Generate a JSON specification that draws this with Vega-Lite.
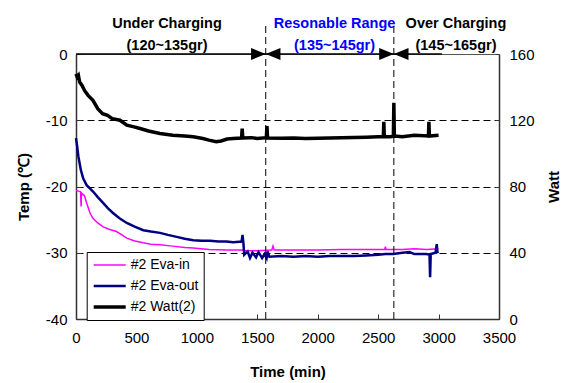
{
  "$schema": "https://vega.github.io/schema/vega-lite/v6.json",
  "width": 423,
  "height": 265,
  "autosize": {"type": "none"},
  "padding": {"left": 76, "top": 54, "right": 68, "bottom": 64},
  "background": "white",
  "config": {
    "font": "Liberation Sans",
    "view": {"stroke": "#555555", "strokeWidth": 1},
    "axis": {
      "labelFont": "Liberation Sans", "labelFontSize": 15, "labelColor": "black",
      "titleFont": "Liberation Sans", "titleFontSize": 15, "titleFontWeight": "bold", "titleColor": "black",
      "domainColor": "#333333", "domainWidth": 1.5, "tickColor": "#333333", "tickWidth": 1,
      "labelFlush": false, "labelOverlap": false, "labelBound": false,
      "labelExpr": "'' + datum.value"
    }
  },
  "datasets": {
    "series": [
      {"t": 0, "s": "#2 Eva-in", "v": -20.6}, {"t": 20, "s": "#2 Eva-in", "v": -20.7}, {"t": 38, "s": "#2 Eva-in", "v": -20.8},
      {"t": 42, "s": "#2 Eva-in", "v": -23.0}, {"t": 46, "s": "#2 Eva-in", "v": -21.0}, {"t": 70, "s": "#2 Eva-in", "v": -21.4},
      {"t": 90, "s": "#2 Eva-in", "v": -22.6}, {"t": 116, "s": "#2 Eva-in", "v": -24.0}, {"t": 140, "s": "#2 Eva-in", "v": -24.8},
      {"t": 180, "s": "#2 Eva-in", "v": -25.5}, {"t": 225, "s": "#2 Eva-in", "v": -26.1}, {"t": 280, "s": "#2 Eva-in", "v": -26.5},
      {"t": 335, "s": "#2 Eva-in", "v": -26.8}, {"t": 380, "s": "#2 Eva-in", "v": -27.3}, {"t": 420, "s": "#2 Eva-in", "v": -27.8},
      {"t": 480, "s": "#2 Eva-in", "v": -28.2}, {"t": 555, "s": "#2 Eva-in", "v": -28.5}, {"t": 620, "s": "#2 Eva-in", "v": -28.7},
      {"t": 695, "s": "#2 Eva-in", "v": -28.8}, {"t": 800, "s": "#2 Eva-in", "v": -29.0}, {"t": 900, "s": "#2 Eva-in", "v": -29.2},
      {"t": 970, "s": "#2 Eva-in", "v": -29.3}, {"t": 1100, "s": "#2 Eva-in", "v": -29.5}, {"t": 1250, "s": "#2 Eva-in", "v": -29.6},
      {"t": 1370, "s": "#2 Eva-in", "v": -29.6}, {"t": 1400, "s": "#2 Eva-in", "v": -29.7}, {"t": 1500, "s": "#2 Eva-in", "v": -29.7},
      {"t": 1620, "s": "#2 Eva-in", "v": -29.6}, {"t": 1630, "s": "#2 Eva-in", "v": -29.0}, {"t": 1640, "s": "#2 Eva-in", "v": -29.6},
      {"t": 1800, "s": "#2 Eva-in", "v": -29.6}, {"t": 2000, "s": "#2 Eva-in", "v": -29.6}, {"t": 2200, "s": "#2 Eva-in", "v": -29.5},
      {"t": 2400, "s": "#2 Eva-in", "v": -29.5}, {"t": 2555, "s": "#2 Eva-in", "v": -29.5}, {"t": 2560, "s": "#2 Eva-in", "v": -29.1},
      {"t": 2565, "s": "#2 Eva-in", "v": -29.5}, {"t": 2700, "s": "#2 Eva-in", "v": -29.5}, {"t": 2800, "s": "#2 Eva-in", "v": -29.4},
      {"t": 2900, "s": "#2 Eva-in", "v": -29.5}, {"t": 3000, "s": "#2 Eva-in", "v": -29.4},

      {"t": 0, "s": "#2 Eva-out", "v": -12.7}, {"t": 10, "s": "#2 Eva-out", "v": -14.0}, {"t": 20, "s": "#2 Eva-out", "v": -15.5},
      {"t": 40, "s": "#2 Eva-out", "v": -17.5}, {"t": 60, "s": "#2 Eva-out", "v": -18.8}, {"t": 88, "s": "#2 Eva-out", "v": -19.8},
      {"t": 115, "s": "#2 Eva-out", "v": -20.3}, {"t": 143, "s": "#2 Eva-out", "v": -20.8}, {"t": 180, "s": "#2 Eva-out", "v": -21.6},
      {"t": 226, "s": "#2 Eva-out", "v": -22.5}, {"t": 265, "s": "#2 Eva-out", "v": -23.3}, {"t": 306, "s": "#2 Eva-out", "v": -24.0},
      {"t": 360, "s": "#2 Eva-out", "v": -24.8}, {"t": 420, "s": "#2 Eva-out", "v": -25.5}, {"t": 490, "s": "#2 Eva-out", "v": -26.1},
      {"t": 557, "s": "#2 Eva-out", "v": -26.6}, {"t": 620, "s": "#2 Eva-out", "v": -26.8}, {"t": 695, "s": "#2 Eva-out", "v": -27.0},
      {"t": 760, "s": "#2 Eva-out", "v": -27.3}, {"t": 833, "s": "#2 Eva-out", "v": -27.6}, {"t": 900, "s": "#2 Eva-out", "v": -27.9},
      {"t": 970, "s": "#2 Eva-out", "v": -28.1}, {"t": 1040, "s": "#2 Eva-out", "v": -28.2}, {"t": 1108, "s": "#2 Eva-out", "v": -28.2},
      {"t": 1180, "s": "#2 Eva-out", "v": -28.3}, {"t": 1246, "s": "#2 Eva-out", "v": -28.3}, {"t": 1300, "s": "#2 Eva-out", "v": -28.4},
      {"t": 1370, "s": "#2 Eva-out", "v": -28.3}, {"t": 1378, "s": "#2 Eva-out", "v": -27.3}, {"t": 1385, "s": "#2 Eva-out", "v": -28.5},
      {"t": 1392, "s": "#2 Eva-out", "v": -30.3}, {"t": 1420, "s": "#2 Eva-out", "v": -29.8}, {"t": 1440, "s": "#2 Eva-out", "v": -30.8},
      {"t": 1460, "s": "#2 Eva-out", "v": -30.0}, {"t": 1490, "s": "#2 Eva-out", "v": -30.7}, {"t": 1510, "s": "#2 Eva-out", "v": -29.9},
      {"t": 1540, "s": "#2 Eva-out", "v": -30.8}, {"t": 1560, "s": "#2 Eva-out", "v": -30.2}, {"t": 1577, "s": "#2 Eva-out", "v": -30.8},
      {"t": 1585, "s": "#2 Eva-out", "v": -29.8}, {"t": 1600, "s": "#2 Eva-out", "v": -30.6}, {"t": 1700, "s": "#2 Eva-out", "v": -30.5},
      {"t": 1800, "s": "#2 Eva-out", "v": -30.6}, {"t": 1900, "s": "#2 Eva-out", "v": -30.5}, {"t": 2000, "s": "#2 Eva-out", "v": -30.6},
      {"t": 2100, "s": "#2 Eva-out", "v": -30.5}, {"t": 2200, "s": "#2 Eva-out", "v": -30.5}, {"t": 2300, "s": "#2 Eva-out", "v": -30.5},
      {"t": 2400, "s": "#2 Eva-out", "v": -30.4}, {"t": 2500, "s": "#2 Eva-out", "v": -30.3}, {"t": 2560, "s": "#2 Eva-out", "v": -30.2},
      {"t": 2625, "s": "#2 Eva-out", "v": -30.2}, {"t": 2700, "s": "#2 Eva-out", "v": -30.0}, {"t": 2760, "s": "#2 Eva-out", "v": -29.9},
      {"t": 2800, "s": "#2 Eva-out", "v": -30.2}, {"t": 2900, "s": "#2 Eva-out", "v": -30.2}, {"t": 2925, "s": "#2 Eva-out", "v": -30.3},
      {"t": 2930, "s": "#2 Eva-out", "v": -33.7}, {"t": 2935, "s": "#2 Eva-out", "v": -30.2}, {"t": 2975, "s": "#2 Eva-out", "v": -30.0},
      {"t": 2985, "s": "#2 Eva-out", "v": -28.7}, {"t": 2990, "s": "#2 Eva-out", "v": -29.9}, {"t": 3000, "s": "#2 Eva-out", "v": -29.8},

      {"t": 0, "s": "#2 Watt(2)", "v": 148}, {"t": 10, "s": "#2 Watt(2)", "v": 146}, {"t": 20, "s": "#2 Watt(2)", "v": 147},
      {"t": 30, "s": "#2 Watt(2)", "v": 143}, {"t": 50, "s": "#2 Watt(2)", "v": 141}, {"t": 70, "s": "#2 Watt(2)", "v": 138},
      {"t": 100, "s": "#2 Watt(2)", "v": 135}, {"t": 140, "s": "#2 Watt(2)", "v": 132}, {"t": 180, "s": "#2 Watt(2)", "v": 127},
      {"t": 220, "s": "#2 Watt(2)", "v": 124}, {"t": 260, "s": "#2 Watt(2)", "v": 123}, {"t": 300, "s": "#2 Watt(2)", "v": 121},
      {"t": 364, "s": "#2 Watt(2)", "v": 120}, {"t": 420, "s": "#2 Watt(2)", "v": 117}, {"t": 480, "s": "#2 Watt(2)", "v": 116},
      {"t": 530, "s": "#2 Watt(2)", "v": 115}, {"t": 600, "s": "#2 Watt(2)", "v": 113.5}, {"t": 695, "s": "#2 Watt(2)", "v": 112},
      {"t": 800, "s": "#2 Watt(2)", "v": 111}, {"t": 900, "s": "#2 Watt(2)", "v": 110.5}, {"t": 970, "s": "#2 Watt(2)", "v": 110},
      {"t": 1050, "s": "#2 Watt(2)", "v": 109}, {"t": 1100, "s": "#2 Watt(2)", "v": 108}, {"t": 1160, "s": "#2 Watt(2)", "v": 107},
      {"t": 1200, "s": "#2 Watt(2)", "v": 107.5}, {"t": 1250, "s": "#2 Watt(2)", "v": 108.7}, {"t": 1300, "s": "#2 Watt(2)", "v": 109},
      {"t": 1370, "s": "#2 Watt(2)", "v": 109.3}, {"t": 1375, "s": "#2 Watt(2)", "v": 115}, {"t": 1380, "s": "#2 Watt(2)", "v": 109.3},
      {"t": 1450, "s": "#2 Watt(2)", "v": 109.5}, {"t": 1500, "s": "#2 Watt(2)", "v": 109}, {"t": 1575, "s": "#2 Watt(2)", "v": 109.5},
      {"t": 1580, "s": "#2 Watt(2)", "v": 116.5}, {"t": 1585, "s": "#2 Watt(2)", "v": 109.3}, {"t": 1700, "s": "#2 Watt(2)", "v": 109.2},
      {"t": 1800, "s": "#2 Watt(2)", "v": 109.3}, {"t": 1900, "s": "#2 Watt(2)", "v": 109}, {"t": 2000, "s": "#2 Watt(2)", "v": 109.2},
      {"t": 2100, "s": "#2 Watt(2)", "v": 109.3}, {"t": 2200, "s": "#2 Watt(2)", "v": 109.5}, {"t": 2300, "s": "#2 Watt(2)", "v": 109.6},
      {"t": 2400, "s": "#2 Watt(2)", "v": 109.8}, {"t": 2500, "s": "#2 Watt(2)", "v": 110}, {"t": 2543, "s": "#2 Watt(2)", "v": 110},
      {"t": 2547, "s": "#2 Watt(2)", "v": 119}, {"t": 2551, "s": "#2 Watt(2)", "v": 110}, {"t": 2600, "s": "#2 Watt(2)", "v": 110},
      {"t": 2626, "s": "#2 Watt(2)", "v": 110.3}, {"t": 2630, "s": "#2 Watt(2)", "v": 130.6}, {"t": 2634, "s": "#2 Watt(2)", "v": 110.5},
      {"t": 2700, "s": "#2 Watt(2)", "v": 110}, {"t": 2800, "s": "#2 Watt(2)", "v": 111}, {"t": 2916, "s": "#2 Watt(2)", "v": 110.5},
      {"t": 2920, "s": "#2 Watt(2)", "v": 119}, {"t": 2924, "s": "#2 Watt(2)", "v": 110.5}, {"t": 3000, "s": "#2 Watt(2)", "v": 111}
    ],
    "boundaries": [{"t": 1570}, {"t": 2630}],
    "labels": [
      {"t": 753, "lines": ["Under Charging", "(120~135gr)"]},
      {"t": 2139, "lines": ["Resonable Range", "(135~145gr)"]},
      {"t": 3144, "lines": ["Over Charging", "(145~165gr)"]}
    ]
  },
  "layer": [
    {
      "layer": [
        {
          "data": {"name": "series"},
          "transform": [{"filter": "datum.s !== '#2 Watt(2)'"}],
          "mark": {"type": "line", "interpolate": "linear"},
          "encoding": {
            "x": {"field": "t", "type": "quantitative", "title": "Time (min)",
              "scale": {"domain": [0, 3500], "nice": false, "zero": false},
              "axis": {"values": [0, 500, 1000, 1500, 2000, 2500, 3000, 3500], "grid": false, "tickSize": -5, "labelPadding": 16,
                "titleX": 211.5, "titleY": 52, "titleBaseline": "middle", "titleAlign": "center"}},
            "y": {"field": "v", "type": "quantitative", "title": "Temp (℃)",
              "scale": {"domain": [-40, 0], "nice": false, "zero": false},
              "axis": {"values": [-40, -30, -20, -10, 0], "grid": true, "gridDash": [7, 4], "gridColor": "black", "gridWidth": 1,
                "gridOpacity": {"condition": {"test": "datum.value === 0 || datum.value === -40", "value": 0}, "value": 1},
                "tickSize": -5, "labelPadding": 14, "titleX": -53, "titleY": 132.5, "titleAngle": -90, "titleBaseline": "middle", "titleAlign": "center"}},
            "color": {"field": "s", "type": "nominal",
              "scale": {"domain": ["#2 Eva-in", "#2 Eva-out", "#2 Watt(2)"], "range": ["#ff00ff", "#000080", "#000000"]},
              "legend": {"orient": "none", "legendX": 10.7, "legendY": 198, "title": null, "direction": "vertical",
                "strokeColor": "black", "fillColor": "white", "padding": 5, "symbolType": "stroke", "symbolSize": 1024,
                "labelFontSize": 14, "labelFont": "Liberation Sans", "labelColor": "black", "clipHeight": 16, "rowPadding": 5, "labelOffset": 3}},
            "strokeWidth": {"field": "s", "type": "nominal",
              "scale": {"domain": ["#2 Eva-in", "#2 Eva-out", "#2 Watt(2)"], "range": [1.5, 3.5, 4]},
              "legend": {"orient": "none", "legendX": 10.7, "legendY": 198, "title": null, "direction": "vertical",
                "strokeColor": "black", "fillColor": "white", "padding": 5, "symbolType": "stroke", "symbolSize": 1024,
                "labelFontSize": 14, "labelFont": "Liberation Sans", "labelColor": "black", "clipHeight": 16, "rowPadding": 5, "labelOffset": 3}}
          }
        },
        {
          "data": {"name": "boundaries"},
          "mark": {"type": "rule", "color": "black", "strokeWidth": 1, "strokeDash": [7, 4]},
          "encoding": {
            "x": {"field": "t", "type": "quantitative", "title": "Time (min)", "scale": {"domain": [0, 3500], "nice": false, "zero": false}},
            "y": {"datum": -40, "type": "quantitative", "title": "Temp (℃)", "scale": {"domain": [-40, 0], "nice": false, "zero": false}},
            "y2": {"datum": 4.8}
          }
        },
        {
          "data": {"values": [{}]},
          "mark": {"type": "rule", "color": "black", "strokeWidth": 1.5},
          "encoding": {
            "x": {"datum": 0, "type": "quantitative", "title": "Time (min)", "scale": {"domain": [0, 3500], "nice": false, "zero": false}},
            "x2": {"datum": 3027},
            "y": {"datum": 0, "type": "quantitative", "title": "Temp (℃)", "scale": {"domain": [-40, 0], "nice": false, "zero": false}}
          }
        },
        {
          "data": {"name": "boundaries"},
          "mark": {"type": "point", "shape": "M-2,-0.82L0,0L-2,0.82Z", "size": 215, "filled": true, "color": "black", "opacity": 1, "strokeWidth": 0},
          "encoding": {
            "x": {"field": "t", "type": "quantitative", "title": "Time (min)", "scale": {"domain": [0, 3500], "nice": false, "zero": false}},
            "y": {"datum": 0, "type": "quantitative", "title": "Temp (℃)", "scale": {"domain": [-40, 0], "nice": false, "zero": false}}
          }
        },
        {
          "data": {"name": "boundaries"},
          "mark": {"type": "point", "shape": "M2,-0.82L0,0L2,0.82Z", "size": 215, "filled": true, "color": "black", "opacity": 1, "strokeWidth": 0},
          "encoding": {
            "x": {"field": "t", "type": "quantitative", "title": "Time (min)", "scale": {"domain": [0, 3500], "nice": false, "zero": false}},
            "y": {"datum": 0, "type": "quantitative", "title": "Temp (℃)", "scale": {"domain": [-40, 0], "nice": false, "zero": false}}
          }
        },
        {
          "data": {"name": "labels"},
          "mark": {"type": "text", "font": "Liberation Sans", "fontSize": 14.5, "fontWeight": "bold", "align": "center", "baseline": "middle", "lineHeight": 22},
          "encoding": {
            "x": {"field": "t", "type": "quantitative", "title": "Time (min)", "scale": {"domain": [0, 3500], "nice": false, "zero": false}},
            "y": {"datum": 4.53, "type": "quantitative", "title": "Temp (℃)", "scale": {"domain": [-40, 0], "nice": false, "zero": false}},
            "text": {"field": "lines"},
            "color": {"condition": {"test": "datum.t > 2000 && datum.t < 2500", "value": "#0000ff"}, "value": "black"}
          }
        }
      ]
    },
    {
      "data": {"name": "series"},
      "transform": [{"filter": "datum.s === '#2 Watt(2)'"}],
      "mark": {"type": "line", "interpolate": "linear"},
      "encoding": {
        "x": {"field": "t", "type": "quantitative", "title": "Time (min)", "scale": {"domain": [0, 3500], "nice": false, "zero": false}},
        "y": {"field": "v", "type": "quantitative", "title": "Watt",
          "scale": {"domain": [0, 160], "nice": false, "zero": false},
          "axis": {"orient": "right", "values": [0, 40, 80, 120, 160], "grid": false, "tickSize": -4, "labelPadding": 14,
            "titleX": 54, "titleY": 132.5, "titleAngle": -90, "titleBaseline": "middle", "titleAlign": "center"}},
        "color": {"field": "s", "type": "nominal",
          "scale": {"domain": ["#2 Eva-in", "#2 Eva-out", "#2 Watt(2)"], "range": ["#ff00ff", "#000080", "#000000"]},
          "legend": {"orient": "none", "legendX": 10.7, "legendY": 198, "title": null, "direction": "vertical",
            "strokeColor": "black", "fillColor": "white", "padding": 5, "symbolType": "stroke", "symbolSize": 1024,
            "labelFontSize": 14, "labelFont": "Liberation Sans", "labelColor": "black", "clipHeight": 16, "rowPadding": 5, "labelOffset": 3}},
        "strokeWidth": {"field": "s", "type": "nominal",
          "scale": {"domain": ["#2 Eva-in", "#2 Eva-out", "#2 Watt(2)"], "range": [1.5, 3.5, 4]},
          "legend": {"orient": "none", "legendX": 10.7, "legendY": 198, "title": null, "direction": "vertical",
            "strokeColor": "black", "fillColor": "white", "padding": 5, "symbolType": "stroke", "symbolSize": 1024,
            "labelFontSize": 14, "labelFont": "Liberation Sans", "labelColor": "black", "clipHeight": 16, "rowPadding": 5, "labelOffset": 3}}
      }
    }
  ],
  "resolve": {"scale": {"y": "independent"}}
}
